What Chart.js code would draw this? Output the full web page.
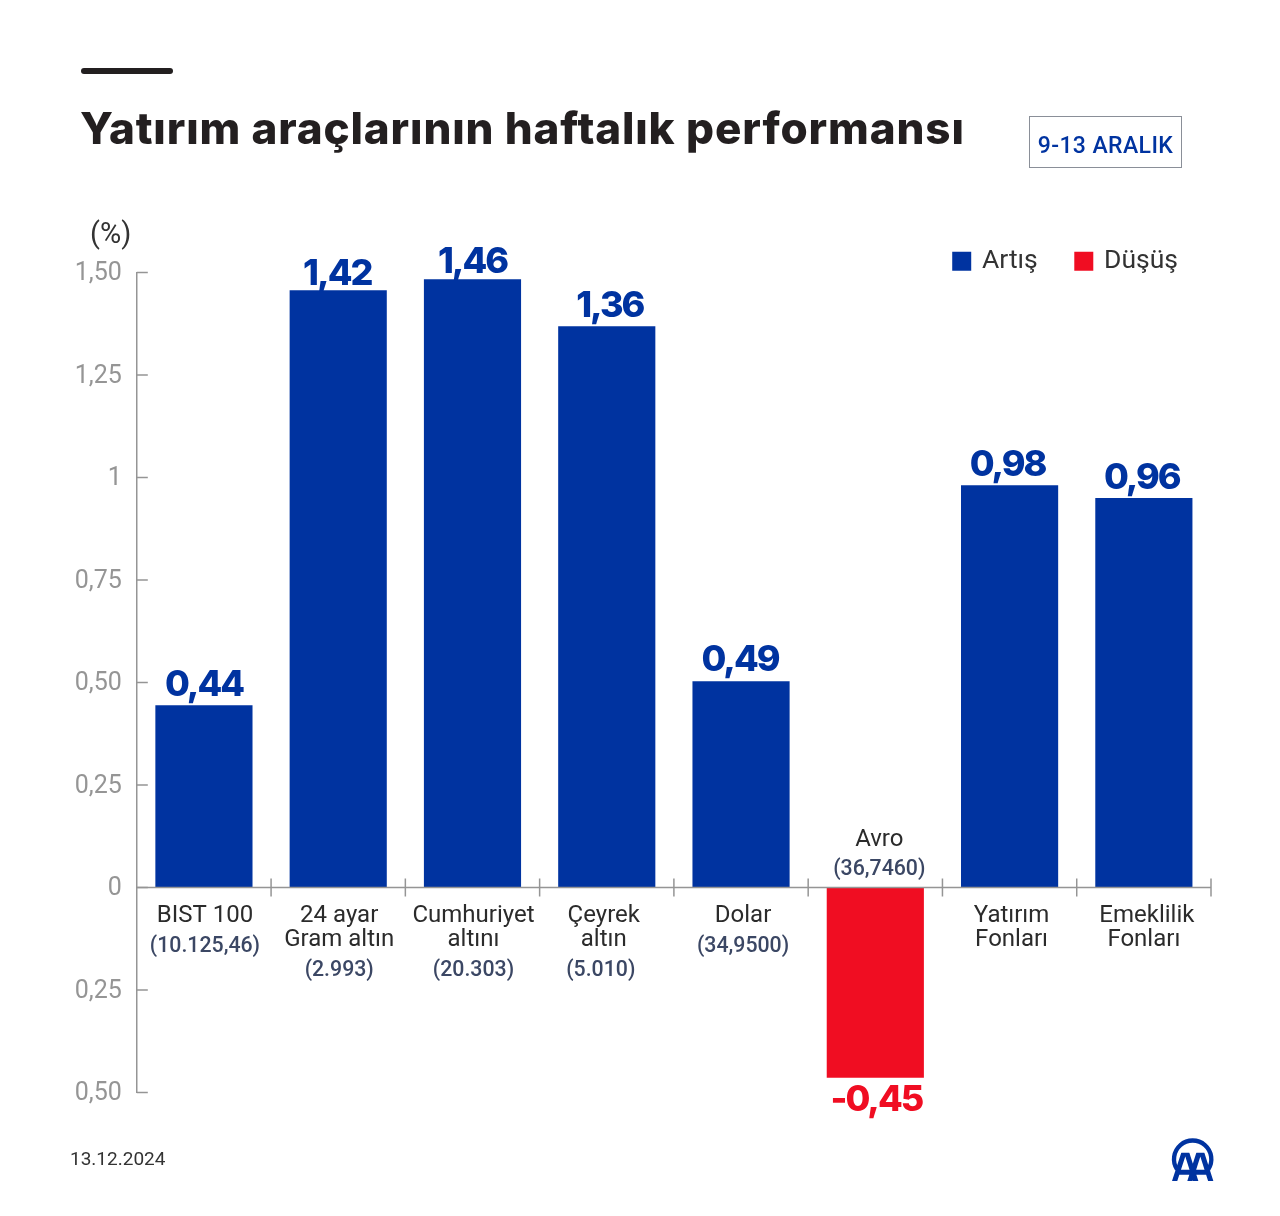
<!DOCTYPE html>
<html lang="tr"><head><meta charset="utf-8">
<script src="https://cdn.jsdelivr.net/npm/chart.js@4"></script>
<style>
html,body{margin:0;padding:0;background:#fff;width:1280px;height:1216px;overflow:hidden}
#wrap{position:relative;width:1280px;height:1216px}
#wrap canvas{position:absolute;left:0;top:0}
.abs{position:absolute;white-space:nowrap}
#rule{left:81px;top:68px;width:92px;height:6px;border-radius:3px;background:#231f20}
#title{left:80px;top:100px;font:800 44px/56px Inter,sans-serif;color:#231f20;letter-spacing:.85px}
#badge{left:1029px;top:116px;width:151px;height:50px;border:1px solid #8a8f98;font:500 23px/58px Roboto,sans-serif;color:#0033a0;text-align:center;letter-spacing:.4px}
#unit{left:90px;top:216px;font:400 29px/34px Roboto,sans-serif;color:#333}
#date{left:70px;top:1148px;font:400 19px/22px Roboto,sans-serif;color:#333}
#logo{left:1150px;top:1120px}
</style></head><body>
<div id="wrap">
<canvas id="c" width="1280" height="1216"></canvas>
<div class="abs" id="rule"></div>
<div class="abs" id="title">Yatırım araçlarının haftalık performansı</div>
<div class="abs" id="badge">9-13 ARALIK</div>
<div class="abs" id="unit">(%)</div>
<div class="abs" id="date">13.12.2024</div>
<svg class="abs" id="logo" width="90" height="80" viewBox="0 0 270 240">
<defs><clipPath id="lc"><rect x="50" y="98" width="160" height="85"/></clipPath></defs>
<path d="M81 148 A56 56 0 1 1 175 148" fill="none" stroke="#0033a0" stroke-width="13"/>
<g clip-path="url(#lc)"><path d="M70 195 L106 85 L141 195 M116 195 L151 85 L186 195 M84 157 H126 M130 157 H172" fill="none" stroke="#0033a0" stroke-width="15"/></g>
</svg>
</div>
<script>
const categories = ['BIST 100','24 ayar Gram altın','Cumhuriyet altını','Çeyrek altın','Dolar','Avro','Yatırım Fonları','Emeklilik Fonları'];
const nameLines = [['BIST 100'],['24 ayar','Gram altın'],['Cumhuriyet','altını'],['Çeyrek','altın'],['Dolar'],['Avro'],['Yatırım','Fonları'],['Emeklilik','Fonları']];
const notes = ['(10.125,46)','(2.993)','(20.303)','(5.010)','(34,9500)','(36,7460)','',''];
const valueLabels = ['0,44','1,42','1,46','1,36','0,49','-0,45','0,98','0,96'];
const riseValues = [0.444,1.456,1.483,1.368,0.502,null,0.98,0.949];
const fallValues = [null,null,null,null,null,-0.463,null,null];
const yTickLabels = ['0,50','0,25','0','0,25','0,50','0,75','1','1,25','1,50'];
const seriesNames = ['Artış','Düşüş'];

const BLUE='#0033a0', RED='#f00d22', GREY='#959595';
const labelNudge=[1,1,1,-3,2,4,2,3];
const valueNudge=[0,-1,0,3,-1,1,-2,-2];
const valueGap=[9,6,6,10,11,3,10,9];

const overlay={id:'overlay',
 afterLayout(ch){const l=ch.legend; l.top=209; l.bottom=l.top+l.height; l.left=900; l.right=1217;},
 afterDatasetsDraw(ch){
  const {ctx,scales:{x,y},chartArea:a}=ch; const y0=y.getPixelForValue(0);
  ctx.save(); ctx.strokeStyle=GREY; ctx.lineWidth=1.5;
  y.ticks.forEach(t=>{const p=y.getPixelForValue(t.value);ctx.beginPath();ctx.moveTo(a.left,p);ctx.lineTo(a.left+11,p);ctx.stroke();});
  ctx.beginPath();ctx.moveTo(a.left,y0);ctx.lineTo(a.right,y0);ctx.stroke();
  const step=a.width/categories.length;
  for(let i=1;i<=categories.length;i++){const p=x.getPixelForValue(i-1)+step/2;ctx.beginPath();ctx.moveTo(p,y0-9);ctx.lineTo(p,y0+9);ctx.stroke();}
  ctx.textAlign='center';ctx.textBaseline='middle';
  categories.forEach((c,i)=>{
    const cx=x.getPixelForValue(i)+labelNudge[i];
    const lines=nameLines[i]; const above=fallValues[i]!==null;
    let yy=above?y0-48:y0+28;
    ctx.font='400 24px Roboto, sans-serif';ctx.fillStyle='#2b2b2b';
    lines.forEach((s,k)=>{ctx.fillText(s,cx-(i===7&&k===1?3:0),yy);yy+=24;});
    if(notes[i]){ctx.font='500 21.3px Roboto, sans-serif';ctx.fillStyle='#3b4764';ctx.fillText(notes[i],cx-(i===3?3:0),yy+(above?6:7));}
  });
  ctx.font='800 36px Inter, sans-serif';ctx.letterSpacing='-2px';
  [0,1].forEach(d=>{ch.getDatasetMeta(d).data.forEach((b,i)=>{
    const v=ch.data.datasets[d].data[i]; if(v===null)return;
    ctx.fillStyle=d===0?BLUE:RED;
    ctx.textBaseline=v>=0?'alphabetic':'top';
    ctx.fillText(valueLabels[i],b.x+valueNudge[i],v>=0?b.y-valueGap[i]:b.y+valueGap[i]+2);
  });});
  ctx.restore();
 }};

const chart=new Chart(document.getElementById('c'),{
 type:'bar',
 data:{labels:categories,datasets:[
  {label:seriesNames[0],data:riseValues,backgroundColor:BLUE,borderWidth:0,barThickness:96.5},
  {label:seriesNames[1],data:fallValues,backgroundColor:RED,borderWidth:0,barThickness:96.5}]},
 options:{responsive:false,animation:false,devicePixelRatio:1,
  layout:{padding:{left:0,right:69,top:0,bottom:100}},
  plugins:{tooltip:{enabled:false},title:{display:false},
   legend:{display:true,position:'top',align:'end',
    labels:{usePointStyle:true,pointStyle:'rect',boxWidth:14,boxHeight:19,padding:39,color:'#333',font:{family:'Roboto, sans-serif',size:26.5,weight:'400'}}}},
  scales:{
   x:{stacked:true,position:{y:0},offset:true,
      grid:{display:false,drawTicks:false},border:{display:false},
      ticks:{display:false}},
   y:{stacked:true,min:-0.5,max:1.5,
      grid:{display:false,drawTicks:false},border:{display:true,color:GREY,width:1.5},
      ticks:{stepSize:0.25,padding:15,labelOffset:1.5,color:GREY,font:{family:'Roboto, sans-serif',size:25,weight:'400'},callback:(v,i)=>yTickLabels[i]}}
  }},
 plugins:[overlay]});
const pad=chart.options.layout.padding, a=chart.chartArea;
pad.left+=136.8-a.left; pad.right+=a.right-1211; pad.top+=272.5-a.top; pad.bottom+=a.bottom-1092.5;
chart.update('none');
</script></body></html>
